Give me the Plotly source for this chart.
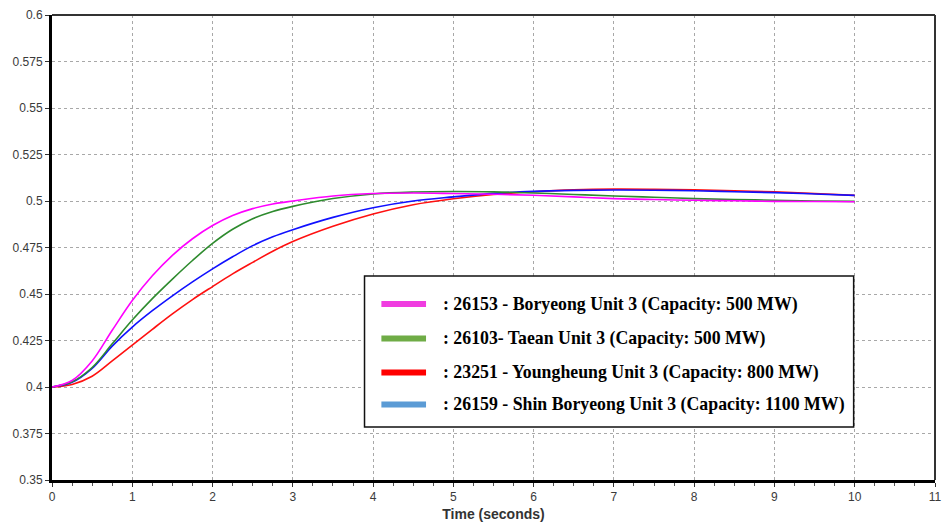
import plotly.graph_objects as go

time_s = [0, 0.25, 0.5, 0.75, 1, 1.25, 1.5, 1.75, 2, 2.25, 2.5, 2.75, 3, 3.5, 4, 4.5, 5,
          5.5, 6, 6.5, 7, 7.5, 8, 8.5, 9, 9.5, 10]

boryeong = [0.400, 0.4035, 0.4140, 0.4305, 0.4465, 0.4598, 0.4708, 0.4797, 0.4868,
            0.4922, 0.4959, 0.4984, 0.5000, 0.5027, 0.5040, 0.5043, 0.5040, 0.5036,
            0.5031, 0.5022, 0.5013, 0.5008, 0.5004, 0.5001, 0.4998, 0.4997, 0.4996]
taean = [0.400, 0.4028, 0.4105, 0.4232, 0.4360, 0.4475, 0.4580, 0.4680, 0.4772,
         0.4848, 0.4905, 0.4944, 0.4971, 0.5013, 0.5038, 0.5048, 0.5051, 0.5049,
         0.5043, 0.5035, 0.5027, 0.5020, 0.5013, 0.5008, 0.5004, 0.5000, 0.4998]
youngheung = [0.400, 0.4014, 0.4058, 0.4140, 0.4225, 0.4310, 0.4393, 0.4470, 0.4540,
              0.4608, 0.4670, 0.4730, 0.4782, 0.4864, 0.4930, 0.4980, 0.5012, 0.5035,
              0.5050, 0.5060, 0.5064, 0.5063, 0.5060, 0.5055, 0.5049, 0.5040, 0.5030]
shin_boryeong = [0.400, 0.4025, 0.4100, 0.4220, 0.4322, 0.4410, 0.4490, 0.4565, 0.4635,
                 0.4700, 0.4760, 0.4808, 0.4846, 0.4912, 0.4964, 0.5000, 0.5022, 0.5041,
                 0.5052, 0.5057, 0.5059, 0.5058, 0.5055, 0.5050, 0.5045, 0.5038, 0.5030]

series_names = [
    ": 26153 - Boryeong Unit 3 (Capacity: 500 MW)",
    ": 26103- Taean Unit 3 (Capacity: 500 MW)",
    ": 23251 - Youngheung Unit 3 (Capacity: 800 MW)",
    ": 26159 - Shin Boryeong Unit 3 (Capacity: 1100 MW)",
]
series_values = [boryeong, taean, youngheung, shin_boryeong]
line_colors = ["#FF00FF", "#2E8B2E", "#FF1010", "#1010FF"]
legend_colors = ["#F03CE0", "#6FAC46", "#FF0000", "#5B9BD5"]
draw_order = [2, 3, 1, 0]

y_ticks = [0.35, 0.375, 0.4, 0.425, 0.45, 0.475, 0.5, 0.525, 0.55, 0.575, 0.6]
y_tick_text = ["0.35", "0.375", "0.4", "0.425", "0.45", "0.475", "0.5", "0.525",
               "0.55", "0.575", "0.6"]
x_ticks = list(range(0, 12))

# plot-area geometry (pixels) used to place the hand-drawn legend box
L, R, T, B = 52, 942, 15, 480
def px(xp):
    return (xp - L) / (R - L)
def py(yp):
    return (B - yp) / (B - T)

fig = go.Figure()
for i in draw_order:
    fig.add_trace(go.Scatter(
        x=time_s, y=series_values[i], mode="lines",
        line=dict(color=line_colors[i], width=1.6, shape="spline", smoothing=1.0),
        showlegend=False, hoverinfo="skip",
    ))

fig.update_layout(
    width=950, height=531,
    margin=dict(l=L, r=950 - R, t=T, b=531 - B),
    paper_bgcolor="white", plot_bgcolor="white",
    font=dict(family="Liberation Sans, Arial", size=12, color="#3a3a3a"),
    showlegend=False,
)
fig.update_xaxes(
    range=[0, 11], tickvals=x_ticks, ticks="outside", ticklen=4, tickcolor="#333",
    showline=True, linewidth=3, linecolor="black", mirror=False,
    showgrid=True, gridcolor="#A8A8A8", gridwidth=1, griddash="3px,3px",
    zeroline=False,
    minor=dict(dtick=0.25, ticks="outside", ticklen=3, tickcolor="#555", showgrid=False),
    title=dict(text="Time (seconds)", font=dict(size=14, weight="bold", color="#333"),
               standoff=6),
)
fig.update_yaxes(
    range=[0.35, 0.6], tickvals=y_ticks, ticktext=y_tick_text,
    ticks="outside", ticklen=4, tickcolor="#333",
    showline=True, linewidth=3, linecolor="black", mirror=False,
    showgrid=True, gridcolor="#A8A8A8", gridwidth=1, griddash="3px,3px",
    zeroline=False,
)
fig.add_shape(type="line", xref="paper", yref="paper", x0=0, x1=1, y0=1, y1=1,
              line=dict(color="#333", width=2))
fig.add_shape(type="line", xref="paper", yref="paper", x0=1, x1=1, y0=0, y1=1,
              line=dict(color="#333", width=2))

# legend box
fig.add_shape(type="rect", xref="paper", yref="paper",
              x0=px(367), x1=px(860), y0=py(427), y1=py(276),
              line=dict(color="#111", width=1.5), fillcolor="white", layer="above")
row_y = [304, 338.5, 372.5, 404.5]
for i in range(4):
    fig.add_shape(type="line", xref="paper", yref="paper",
                  x0=px(384), x1=px(429), y0=py(row_y[i]), y1=py(row_y[i]),
                  line=dict(color=legend_colors[i], width=6), layer="above")
    fig.add_annotation(
        xref="paper", yref="paper", x=px(444), y=py(row_y[i]),
        xanchor="left", yanchor="middle", showarrow=False, text=series_names[i],
        font=dict(family="Liberation Serif, Times New Roman", size=17.8,
                  color="black", weight="bold"),
    )

fig.write_html("out.html")
